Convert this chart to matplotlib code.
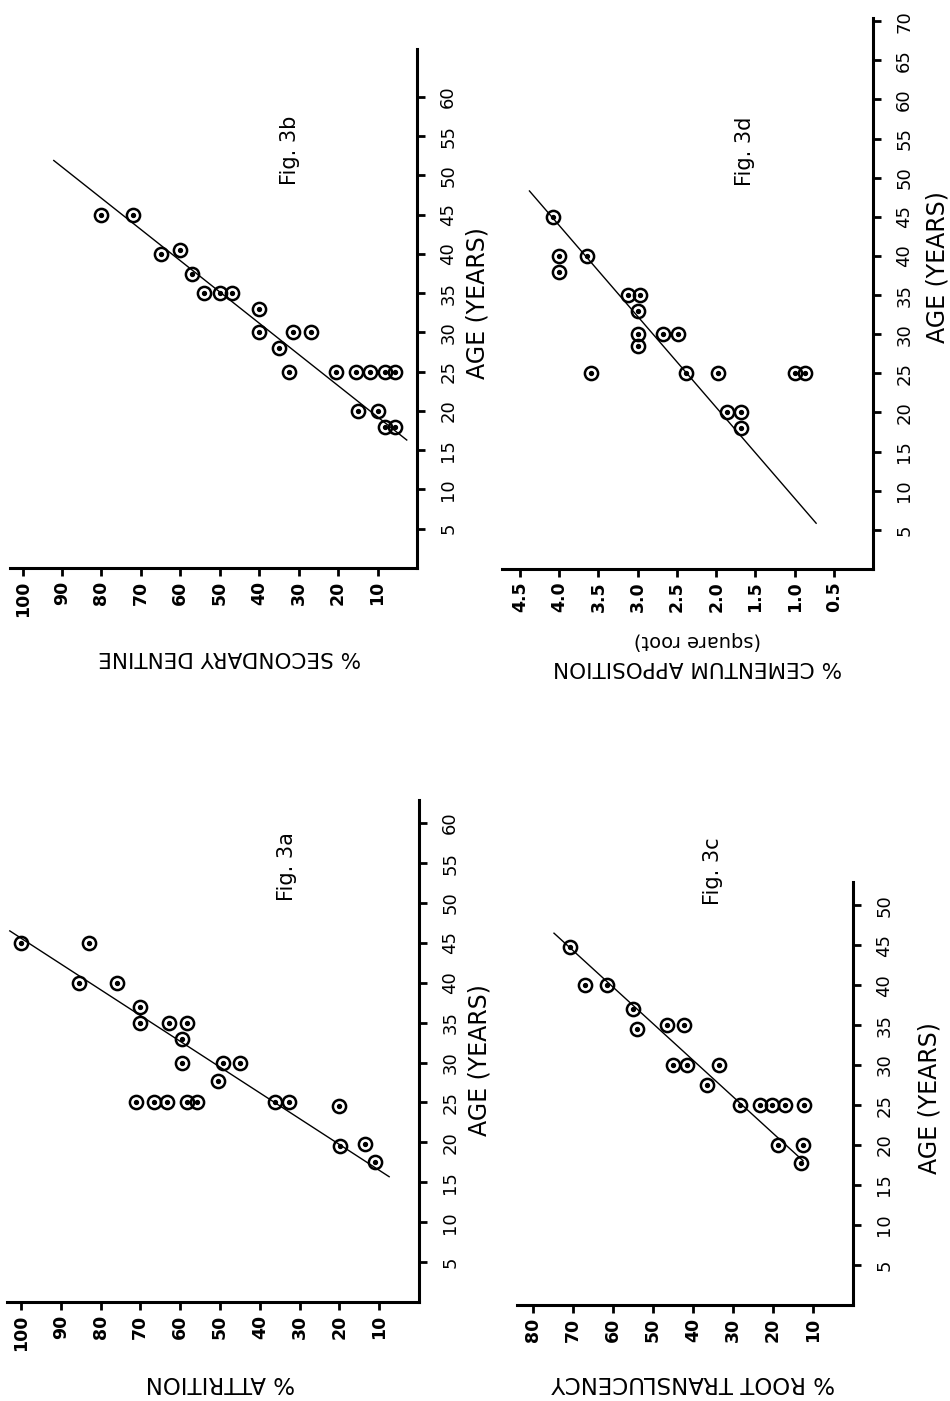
import matplotlib
matplotlib.use('Agg')
import matplotlib.pyplot as plt

# Fig. 3a  % attrition vs age
age_a = [45, 45, 40, 40, 37, 35, 35, 35, 33, 30, 30, 30, 27.7, 25, 25, 25, 25, 25, 25, 25, 24.5, 19.5, 19.8, 17.5]
attr_a = [100, 83, 85.4, 75.8, 70, 70, 62.7, 58.4, 59.5, 59.5, 49.3, 45, 50.4, 71, 66.5, 63.4, 58.3, 55.7, 36.2, 32.6, 20, 19.8, 13.5, 11]
fit_age_a = [15.7, 46.5]
fit_attr_a = [7.5, 102.8]

# Fig. 3b  % secondary dentine vs age
age_b = [45, 45, 40, 40.5, 37.5, 35, 35, 35, 33, 30, 30, 30, 28, 25, 25, 25, 25, 25, 25, 20, 20, 18, 18]
sd_b = [80, 72, 65, 60, 57, 54, 50, 47, 40, 40, 31.5, 27, 35, 32.5, 20.5, 15.5, 12, 8, 5.5, 15, 10, 8, 5.5]
fit_age_b = [16.3, 51.9]
fit_sd_b = [2.6, 92.1]

# Fig. 3c  % root translucency vs age
age_c = [44.8, 40, 40, 37, 34.5, 35, 35, 30, 30, 30, 27.5, 25, 25, 25, 25, 25, 20, 20, 17.8]
rt_c = [70.7, 67, 61.5, 55, 54, 46.4, 42.2, 45, 41.4, 33.5, 36.5, 28.3, 23.2, 20.2, 17.1, 12.2, 18.7, 12.5, 12.9]
fit_age_c = [18.05, 46.5]
fit_rt_c = [12.5, 74.75]

# Fig. 3d  % cementum apposition (square root) vs age
age_d = [45, 40, 38, 40, 35, 35, 33, 30, 28.5, 30, 30, 25, 25, 25, 25, 25, 20, 20, 18]
cem_d = [4.08, 4.0, 4.0, 3.65, 3.12, 2.97, 3.0, 3.0, 3.0, 2.68, 2.48, 3.6, 2.38, 1.98, 1.0, 0.87, 1.86, 1.68, 1.68]
fit_age_d = [5.85, 48.3]
fit_cem_d = [0.725, 4.38]

pct_ticks_100 = [100, 90, 80, 70, 60, 50, 40, 30, 20, 10]
pct_ticks_80 = [80, 70, 60, 50, 40, 30, 20, 10]
cem_ticks = [4.5, 4.0, 3.5, 3.0, 2.5, 2.0, 1.5, 1.0, 0.5]
age_ticks_60 = list(range(5, 61, 5))
age_ticks_70 = list(range(5, 71, 5))
age_ticks_50 = list(range(5, 51, 5))

W, H = 950, 1401
fig = plt.figure(figsize=(W / 100, H / 100), dpi=100)
plt.rcParams['font.family'] = ['DejaVu Sans']


def rect(l, r, t, b):
    return [l / W, 1 - b / H, (r - l) / W, (b - t) / H]


def ftext(x, y, s, **kw):
    fig.text(x / W, 1 - y / H, s, ha='center', va='center', **kw)


def panel(box, xmax, ymax, pct, age, fit_pct, fit_age, xticks, xlabels, yticks):
    ax = fig.add_axes(rect(*box))
    ax.plot(fit_pct, fit_age, color='black', lw=1.0, zorder=2)
    ax.plot(pct, age, 'o', ms=9.5, mfc='none', mec='black', mew=1.8, zorder=3)
    ax.plot(pct, age, 'o', ms=2.8, color='black', zorder=4)
    ax.set_xlim(xmax, 0)
    ax.set_ylim(0, ymax)
    for s in ['top', 'left']:
        ax.spines[s].set_visible(False)
    for s in ['bottom', 'right']:
        ax.spines[s].set_linewidth(2.2)
    ax.set_xticks(xticks, labels=xlabels, fontweight='bold')
    ax.yaxis.tick_right()
    ax.set_yticks(yticks, labels=[str(v) for v in yticks])
    ax.tick_params(axis='x', direction='out', length=6, width=2, pad=3,
                   labelsize=12.5, labelrotation=90)
    ax.tick_params(axis='y', direction='out', length=6, width=2, pad=10,
                   labelsize=13, labelrotation=90)
    for lab in ax.get_yticklabels():
        lab.set_va('center')
    ax.patch.set_visible(False)
    return ax


# Fig. 3b (top left)
panel((10, 417, 49, 568), 103.2, 66.1, sd_b, age_b, fit_sd_b, fit_age_b,
      pct_ticks_100, [str(v) for v in pct_ticks_100], age_ticks_60)
# Fig. 3d (top right)
panel((502, 873, 18, 569), 4.73, 70.4, cem_d, age_d, fit_cem_d, fit_age_d,
      cem_ticks, ['%.1f' % v for v in cem_ticks], age_ticks_70)
# Fig. 3a (bottom left)
panel((7, 419, 800, 1302), 103.5, 62.9, attr_a, age_a, fit_attr_a, fit_age_a,
      pct_ticks_100, [str(v) for v in pct_ticks_100], age_ticks_60)
# Fig. 3c (bottom right)
panel((517, 853, 882, 1305), 84, 52.9, rt_c, age_c, fit_rt_c, fit_age_c,
      pct_ticks_80, [str(v) for v in pct_ticks_80], age_ticks_50)

# axis titles (page is turned, so labels are rotated)
ftext(230, 657, '% SECONDARY DENTINE', rotation=180, fontsize=15.5)
ftext(697, 640, '(square root)', rotation=180, fontsize=14)
ftext(697, 667, '% CEMENTUM APPOSITION', rotation=180, fontsize=15.5)
ftext(220, 1383, '% ATTRITION', rotation=180, fontsize=16.5)
ftext(693, 1383, '% ROOT TRANSLUCENCY', rotation=180, fontsize=16.5)

ftext(477, 303, 'AGE (YEARS)', rotation=90, fontsize=17)
ftext(938, 267, 'AGE (YEARS)', rotation=90, fontsize=17)
ftext(480, 1060, 'AGE (YEARS)', rotation=90, fontsize=17)
ftext(930, 1098, 'AGE (YEARS)', rotation=90, fontsize=17)

ftext(290, 150, 'Fig. 3b', rotation=90, fontsize=15)
ftext(745, 151, 'Fig. 3d', rotation=90, fontsize=15)
ftext(287, 867, 'Fig. 3a', rotation=90, fontsize=15)
ftext(713, 871, 'Fig. 3c', rotation=90, fontsize=15)

fig.savefig('out.png', dpi=100)
